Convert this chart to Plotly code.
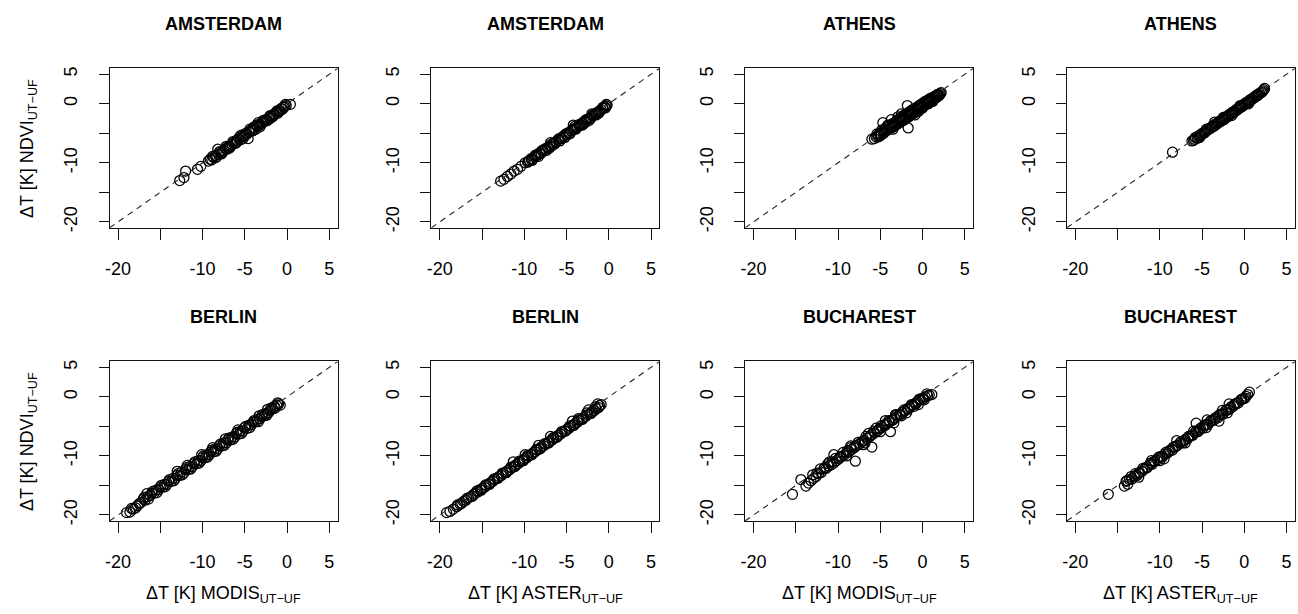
import plotly.graph_objects as go

# Shared axis setup for every panel (degrees K difference, urban tree vs urban fabric)
AXIS_RANGE = [-21, 6]
TICK_VALUES = [-20, -15, -10, -5, 0, 5]
X_TICK_TEXT = ["-20", "", "-10", "-5", "0", "5"]
Y_TICK_TEXT = ["-20", "", "-10", "", "0", "5"]

PANEL_CITIES = ["AMSTERDAM", "AMSTERDAM", "ATHENS", "ATHENS",
                "BERLIN", "BERLIN", "BUCHAREST", "BUCHAREST"]
PANEL_SENSORS = ["MODIS", "ASTER", "MODIS", "ASTER",
                 "MODIS", "ASTER", "MODIS", "ASTER"]

# (sensor dT, NDVI-based dT) pairs per city/sensor
AMSTERDAM_MODIS = [
    (-12.7, -13.0), (-12.2, -12.5), (-12.0, -11.4), (-10.6, -11.1), (-10.2, -10.6),
    (-9.3, -9.7), (-9.1, -9.4), (-8.9, -9.5), (-8.7, -9.1), (-8.5, -8.8), (-8.2, -7.7),
    (-8.1, -8.6), (-7.9, -8.2), (-7.7, -8.4), (-7.5, -7.9), (-7.3, -7.6), (-7.1, -7.7),
    (-6.9, -7.2), (-6.7, -7.3), (-6.5, -6.9), (-6.3, -6.6), (-6.1, -6.7), (-5.9, -6.2),
    (-5.7, -6.0), (-5.5, -6.1), (-5.3, -5.6), (-5.1, -5.5), (-4.9, -5.0), (-4.6, -5.9),
    (-4.5, -4.8), (-4.3, -4.5), (-4.1, -4.6), (-3.9, -4.1), (-3.7, -4.3), (-3.5, -3.8),
    (-3.3, -3.5), (-3.1, -3.6), (-2.9, -3.1), (-2.7, -3.0), (-2.5, -2.7), (-2.3, -2.8),
    (-2.1, -2.3), (-1.9, -2.1), (-1.7, -2.2), (-1.5, -1.7), (-1.3, -1.5), (-1.1, -1.6),
    (-0.9, -1.1), (-0.7, -0.8), (-0.5, -0.9), (-0.3, -0.4), (-0.1, -0.3), (0.4, -0.1),
    (-6.0, -6.2), (-4.0, -4.0), (-2.0, -2.5), (-5.0, -5.3), (-3.0, -3.3), (-1.0, -1.3),
    (-7.0, -7.4), (-8.8, -8.9), (-8.4, -9.1), (-8.0, -8.1), (-7.6, -8.1), (-7.2, -7.2),
    (-6.8, -7.5), (-6.4, -6.4), (-6.0, -6.6), (-5.6, -5.6), (-5.2, -5.9), (-4.8, -5.2),
    (-4.4, -4.3), (-4.0, -4.5), (-3.6, -3.6), (-3.2, -3.9), (-2.8, -2.8), (-2.4, -2.9),
    (-2.0, -2.0), (-1.6, -2.0), (-1.2, -1.2), (-0.8, -1.2), (-0.4, -0.6), (-0.2, -0.1),
    (-3.4, -3.2), (-5.4, -5.3), (-7.8, -8.5),
]
AMSTERDAM_ASTER = [
    (-12.8, -13.1), (-12.4, -12.8), (-12.0, -12.3), (-11.6, -11.9), (-11.2, -11.4),
    (-10.8, -11.1), (-10.4, -10.6), (-9.9, -10.0), (-9.6, -9.9), (-9.4, -9.6), (-9.2, -9.3),
    (-9.0, -9.4), (-8.8, -9.0), (-8.6, -8.8), (-8.4, -8.7), (-8.2, -8.3), (-8.0, -8.4),
    (-7.8, -8.0), (-7.6, -7.7), (-7.4, -7.9), (-7.2, -7.4), (-7.0, -7.1), (-6.8, -7.2),
    (-6.6, -6.7), (-6.4, -6.8), (-6.2, -6.4), (-6.0, -6.1), (-5.8, -6.3), (-5.6, -5.8),
    (-5.4, -5.5), (-5.2, -5.7), (-5.0, -5.2), (-4.8, -4.9), (-4.6, -5.1), (-4.4, -4.6),
    (-4.2, -4.4), (-4.0, -3.8), (-3.9, -4.3), (-3.7, -3.9), (-3.5, -3.7), (-3.3, -3.6),
    (-3.1, -3.2), (-2.9, -3.0), (-2.7, -3.1), (-2.5, -2.6), (-2.3, -2.5), (-2.1, -2.4),
    (-1.9, -2.0), (-1.7, -1.8), (-1.5, -1.9), (-1.3, -1.4), (-1.1, -1.2), (-0.9, -1.0),
    (-0.7, -0.8), (-0.5, -0.5), (-0.3, -0.4), (-0.2, -0.2), (-6.9, -6.6), (-3.0, -3.4),
    (-1.2, -1.6), (-9.5, -9.7), (-9.1, -9.6), (-8.7, -8.7), (-8.3, -8.9), (-7.9, -7.9),
    (-7.5, -7.6), (-7.1, -7.6), (-6.7, -6.8), (-6.3, -6.5), (-5.9, -5.9), (-5.5, -5.9),
    (-5.1, -5.1), (-4.7, -5.1), (-4.3, -4.3), (-3.9, -4.1), (-3.5, -3.5), (-3.1, -3.6),
    (-2.7, -2.7), (-2.3, -2.8), (-1.9, -1.9), (-1.5, -1.6), (-1.1, -1.4), (-0.7, -0.6),
    (-0.4, -0.7), (-0.3, -0.1), (-4.2, -3.6), (-2.0, -1.7),
]
ATHENS_MODIS = [
    (-6.0, -6.0), (-5.7, -5.9), (-5.5, -5.6), (-5.3, -5.4), (-5.1, -5.0), (-4.9, -5.2),
    (-4.7, -3.2), (-4.7, -4.6), (-4.5, -4.8), (-4.4, -4.3), (-4.2, -4.5), (-4.0, -3.9),
    (-3.8, -4.2), (-3.7, -2.7), (-3.6, -3.6), (-3.4, -3.9), (-3.3, -3.2), (-3.1, -3.5),
    (-3.0, -2.8), (-2.8, -3.2), (-2.7, -2.5), (-2.5, -2.9), (-2.4, -2.2), (-2.2, -2.6),
    (-2.1, -1.9), (-1.9, -2.4), (-1.8, -0.3), (-1.7, -4.1), (-1.8, -1.6), (-1.6, -2.1),
    (-1.5, -1.3), (-1.3, -1.8), (-1.2, -1.0), (-1.0, -1.5), (-0.9, -0.8), (-0.7, -1.2),
    (-0.6, -0.5), (-0.4, -0.9), (-0.3, -0.2), (-0.1, -0.6), (0.0, 0.1), (0.2, -0.3),
    (0.3, 0.4), (0.5, 0.0), (0.6, 0.6), (0.8, 0.3), (0.9, 0.9), (1.1, 0.6), (1.2, 1.1),
    (1.4, 0.9), (1.5, 1.3), (1.7, 1.2), (1.8, 1.6), (2.0, 1.5), (2.2, 1.9), (-2.9, -2.2),
    (-4.1, -3.6), (-5.2, -5.6), (-0.5, -1.3), (0.7, 0.0), (-5.4, -5.1), (-5.0, -5.4),
    (-4.8, -4.4), (-4.6, -5.0), (-4.3, -4.0), (-4.1, -4.4), (-3.9, -3.6), (-3.7, -4.0),
    (-3.5, -3.3), (-3.3, -3.7), (-3.1, -2.9), (-2.9, -3.4), (-2.7, -2.7), (-2.6, -3.0),
    (-2.4, -2.5), (-2.3, -2.0), (-2.2, -2.8), (-2.0, -2.2), (-1.9, -1.7), (-1.7, -2.3),
    (-1.6, -1.5), (-1.4, -1.9), (-1.3, -1.2), (-1.1, -1.7), (-1.0, -0.9), (-0.8, -1.4),
    (-0.7, -0.7), (-0.5, -1.0), (-0.4, -0.4), (-0.2, -0.8), (-0.1, -0.1), (0.1, -0.4),
    (0.2, 0.2), (0.4, -0.1), (0.5, 0.5), (0.7, 0.2), (0.8, 0.7), (1.0, 0.4), (1.1, 0.9),
    (1.3, 0.8), (1.4, 1.2), (1.6, 1.0), (1.7, 1.5), (1.9, 1.3), (2.1, 1.7), (-0.9, -1.9),
    (-2.5, -1.7), (-3.5, -4.3), (0.0, -0.7), (1.2, 0.4),
]
ATHENS_ASTER = [
    (-8.5, -8.2), (-6.2, -6.3), (-5.9, -6.0), (-5.6, -5.8), (-5.4, -5.4), (-5.2, -5.4),
    (-5.0, -5.0), (-4.8, -5.0), (-4.6, -4.7), (-4.4, -4.5), (-4.2, -4.2), (-4.0, -4.2),
    (-3.8, -3.8), (-3.6, -3.8), (-3.4, -3.4), (-3.2, -3.4), (-3.0, -3.0), (-2.8, -3.0),
    (-2.6, -2.6), (-2.4, -2.7), (-2.2, -2.2), (-2.0, -2.2), (-1.8, -1.8), (-1.6, -1.8),
    (-1.4, -1.4), (-1.2, -1.4), (-1.0, -1.0), (-0.8, -1.0), (-0.6, -0.6), (-0.4, -0.6),
    (-0.2, -0.2), (0.0, -0.2), (0.2, 0.2), (0.4, 0.2), (0.6, 0.6), (0.8, 0.6), (1.0, 1.0),
    (1.2, 1.0), (1.4, 1.4), (1.6, 1.4), (1.8, 1.8), (2.0, 1.9), (2.2, 2.2), (2.4, 2.6),
    (-1.5, -2.0), (0.5, 0.0), (-3.5, -3.1), (-5.3, -5.7), (-5.8, -5.7), (-5.5, -5.8),
    (-5.1, -5.2), (-4.7, -4.9), (-4.3, -4.4), (-3.9, -4.0), (-3.5, -3.7), (-3.1, -3.2),
    (-2.7, -2.9), (-2.3, -2.4), (-1.9, -2.1), (-1.5, -1.6), (-1.1, -1.3), (-0.7, -0.8),
    (-0.3, -0.5), (0.1, 0.0), (0.5, 0.3), (0.9, 0.8), (1.3, 1.2), (1.7, 1.6), (2.1, 2.0),
    (-4.5, -4.3), (-2.5, -2.3), (-0.5, -0.3), (1.5, 1.5), (2.3, 2.4), (-6.0, -6.2),
]
BERLIN_MODIS = [
    (-19.0, -19.6), (-18.6, -19.5), (-18.2, -19.0), (-17.7, -18.4), (-17.3, -17.9),
    (-17.0, -17.3), (-16.8, -17.5), (-16.5, -16.9), (-16.2, -16.7), (-16.0, -16.3),
    (-15.7, -16.3), (-15.5, -15.8), (-15.2, -15.7), (-15.0, -15.3), (-14.7, -15.3),
    (-14.5, -14.8), (-14.2, -14.8), (-14.0, -14.3), (-13.7, -14.3), (-13.5, -13.8),
    (-13.2, -13.8), (-13.0, -13.3), (-12.7, -13.3), (-12.5, -12.7), (-12.2, -12.9),
    (-12.0, -12.3), (-11.8, -11.6), (-11.7, -12.3), (-11.5, -11.8), (-11.2, -11.8),
    (-11.0, -11.3), (-10.7, -11.3), (-10.5, -10.8), (-10.2, -10.8), (-10.0, -10.3),
    (-9.7, -10.3), (-9.5, -9.8), (-9.2, -9.8), (-9.0, -9.3), (-8.8, -8.6), (-8.7, -9.3),
    (-8.5, -8.8), (-8.2, -8.8), (-8.0, -8.3), (-7.7, -8.3), (-7.5, -7.8), (-7.2, -7.8),
    (-7.0, -7.3), (-6.7, -7.3), (-6.5, -6.8), (-6.2, -6.8), (-6.0, -6.2), (-5.7, -6.3),
    (-5.5, -5.8), (-5.2, -5.8), (-5.0, -5.2), (-4.7, -5.3), (-4.5, -4.8), (-4.2, -4.7),
    (-4.0, -4.3), (-3.7, -4.2), (-3.5, -3.8), (-3.2, -3.7), (-3.0, -3.3), (-2.7, -3.2),
    (-2.5, -2.8), (-2.2, -2.7), (-2.0, -2.3), (-1.7, -2.0), (-1.5, -1.6), (-1.2, -1.5),
    (-1.0, -1.2), (-0.8, -1.4), (-2.3, -2.1), (-5.8, -5.6), (-10.1, -9.8),
    (-18.4, -18.9), (-17.9, -18.8), (-17.5, -18.1), (-16.9, -17.0), (-16.4, -17.3),
    (-15.9, -16.0), (-15.4, -16.2), (-14.9, -15.0), (-14.4, -15.2), (-13.9, -14.0),
    (-13.4, -14.2), (-12.9, -13.0), (-12.4, -13.2), (-11.9, -12.0), (-11.4, -12.2),
    (-10.9, -11.0), (-10.4, -11.2), (-9.9, -10.0), (-9.4, -10.2), (-8.9, -9.0),
    (-8.4, -9.2), (-7.9, -8.0), (-7.4, -8.2), (-6.9, -7.0), (-6.4, -7.2), (-5.9, -6.0),
    (-5.4, -6.2), (-4.9, -5.0), (-4.4, -5.2), (-3.9, -4.0), (-3.4, -4.2), (-2.9, -3.0),
    (-2.4, -3.1), (-1.9, -1.9), (-1.4, -1.9), (-1.1, -1.0), (-13.0, -12.6), (-7.3, -7.1),
    (-3.3, -3.2), (-16.6, -16.4),
]
BERLIN_ASTER = [
    (-19.2, -19.6), (-18.8, -19.4), (-18.4, -19.0), (-18.0, -18.6), (-17.6, -18.2),
    (-17.2, -17.7), (-16.9, -17.5), (-16.6, -17.1), (-16.3, -16.9), (-16.0, -16.5),
    (-15.8, -16.3), (-15.5, -16.1), (-15.2, -15.7), (-15.0, -15.5), (-14.7, -15.3),
    (-14.5, -15.0), (-14.2, -14.8), (-14.0, -14.5), (-13.7, -14.3), (-13.5, -14.0),
    (-13.2, -13.8), (-13.0, -13.5), (-12.7, -13.3), (-12.5, -13.0), (-12.2, -12.8),
    (-12.0, -12.5), (-11.7, -12.3), (-11.5, -12.0), (-11.2, -11.8), (-11.0, -11.5),
    (-10.7, -11.3), (-10.5, -11.0), (-10.2, -10.8), (-10.0, -10.5), (-9.7, -10.3),
    (-9.5, -10.0), (-9.2, -9.8), (-9.0, -9.5), (-8.7, -9.3), (-8.5, -9.0), (-8.2, -8.8),
    (-8.0, -8.5), (-7.7, -8.3), (-7.5, -8.0), (-7.2, -7.8), (-7.0, -7.5), (-6.7, -7.3),
    (-6.5, -7.0), (-6.2, -6.8), (-6.0, -6.5), (-5.7, -6.3), (-5.5, -6.0), (-5.2, -5.8),
    (-5.0, -5.5), (-4.7, -5.3), (-4.5, -5.0), (-4.2, -4.8), (-4.0, -4.5), (-3.7, -4.3),
    (-3.5, -4.0), (-3.2, -3.8), (-3.0, -3.5), (-2.7, -3.3), (-2.5, -3.0), (-2.2, -2.8),
    (-2.0, -2.5), (-1.7, -2.3), (-1.5, -2.0), (-1.2, -1.8), (-0.9, -1.3), (-6.9, -6.7),
    (-11.3, -11.0), (-3.6, -3.9), (-17.9, -18.3), (-17.4, -18.0), (-16.8, -17.2),
    (-16.1, -16.8), (-15.6, -15.9), (-15.1, -15.8), (-14.6, -14.9), (-14.1, -14.8),
    (-13.6, -13.9), (-13.1, -13.8), (-12.6, -12.9), (-12.1, -12.8), (-11.6, -11.9),
    (-11.1, -11.8), (-10.6, -10.9), (-10.1, -10.8), (-9.6, -9.9), (-9.1, -9.8),
    (-8.6, -8.9), (-8.1, -8.8), (-7.6, -7.9), (-7.1, -7.8), (-6.6, -6.9), (-6.1, -6.8),
    (-5.6, -5.9), (-5.1, -5.8), (-4.6, -4.9), (-4.1, -4.8), (-3.6, -3.7), (-3.1, -3.8),
    (-2.6, -2.7), (-2.1, -2.8), (-1.6, -1.7), (-1.1, -1.5), (-1.3, -1.2), (-2.4, -2.2),
    (-4.3, -4.1), (-8.3, -8.2), (-9.9, -9.8),
]
BUCHAREST_MODIS = [
    (-15.4, -16.5), (-14.4, -14.0), (-13.8, -15.1), (-13.5, -14.6), (-13.2, -14.2),
    (-12.9, -13.8), (-12.6, -13.5), (-12.3, -13.0), (-12.0, -12.8), (-11.7, -12.2),
    (-11.4, -12.1), (-11.1, -11.7), (-10.8, -11.5), (-10.5, -9.8), (-10.5, -11.2),
    (-10.2, -10.8), (-9.9, -10.5), (-9.6, -10.1), (-9.3, -9.9), (-9.0, -9.5), (-8.7, -9.3),
    (-8.4, -8.9), (-8.1, -8.6), (-7.95, -10.9), (-7.8, -8.3), (-7.5, -8.0), (-7.2, -7.6),
    (-6.9, -7.4), (-6.6, -7.0), (-6.3, -6.8), (-6.0, -8.5), (-6.0, -6.4), (-5.7, -6.1),
    (-5.4, -5.8), (-5.1, -5.4), (-4.8, -5.2), (-4.5, -4.7), (-4.2, -4.5), (-3.9, -4.2),
    (-3.8, -5.9), (-3.6, -3.9), (-3.3, -3.6), (-3.0, -3.3), (-2.7, -3.0), (-2.4, -2.6),
    (-2.1, -2.4), (-1.8, -2.0), (-1.5, -1.8), (-1.2, -1.4), (-0.9, -1.1), (-0.6, -0.8),
    (-0.3, -0.5), (0.0, -0.2), (0.3, 0.0), (0.6, 0.2), (1.1, 0.4), (-4.4, -4.0),
    (-2.5, -3.2), (-1.0, -1.6), (-8.5, -8.3), (-5.5, -5.3), (0.2, -0.5), (-3.2, -3.0),
    (-6.8, -7.8), (-13.0, -13.2), (-12.5, -12.9), (-12.1, -12.2), (-11.6, -12.0),
    (-11.2, -11.3), (-10.7, -11.0), (-10.3, -10.4), (-9.8, -10.2), (-9.4, -9.4),
    (-8.9, -9.1), (-8.5, -8.6), (-8.0, -8.3), (-7.6, -7.7), (-7.1, -7.5), (-6.7, -6.7),
    (-6.2, -6.6), (-5.8, -5.8), (-5.3, -5.7), (-4.9, -4.9), (-4.4, -4.8), (-4.0, -4.0),
    (-3.5, -3.9), (-3.1, -3.1), (-2.6, -3.0), (-2.2, -2.2), (-1.7, -2.1), (-1.3, -1.3),
    (-0.8, -1.2), (-0.4, -0.4), (0.1, -0.3), (0.5, 0.5), (0.8, 0.3), (-9.0, -10.0),
    (-7.0, -8.1), (-5.0, -5.9), (-3.4, -4.4), (-1.9, -2.7), (-0.5, -1.3), (-11.0, -11.0),
    (-6.4, -6.2),
]
BUCHAREST_ASTER = [
    (-16.1, -16.5), (-14.2, -15.1), (-14.0, -14.3), (-13.8, -14.8), (-13.6, -14.0),
    (-13.3, -13.9), (-13.0, -13.4), (-12.7, -13.3), (-12.4, -12.8), (-12.1, -12.6),
    (-11.8, -12.2), (-11.5, -12.0), (-11.2, -11.5), (-10.9, -11.4), (-10.6, -10.9),
    (-10.3, -10.7), (-10.0, -10.1), (-9.7, -10.2), (-9.4, -9.7), (-9.1, -9.5), (-8.8, -9.0),
    (-8.5, -9.0), (-8.2, -8.5), (-7.9, -8.2), (-7.6, -7.8), (-7.3, -7.8), (-7.0, -7.2),
    (-6.7, -7.1), (-6.4, -6.6), (-6.1, -6.5), (-5.8, -6.0), (-5.5, -5.9), (-5.2, -5.3),
    (-4.9, -5.3), (-4.6, -4.7), (-4.3, -4.7), (-4.0, -4.1), (-3.7, -4.0), (-3.4, -3.5),
    (-3.1, -3.5), (-2.8, -2.9), (-2.5, -2.9), (-2.2, -2.3), (-1.9, -2.2), (-1.6, -1.7),
    (-1.3, -1.6), (-1.0, -1.1), (-0.7, -1.0), (-0.4, -0.5), (-0.1, -0.3), (0.2, 0.1),
    (0.6, 0.8), (-5.7, -4.45), (-3.0, -4.1), (-1.8, -1.2), (-8.0, -7.4), (-9.5, -10.5),
    (-2.6, -2.3), (-4.4, -3.9), (-13.9, -14.2), (-13.4, -13.5), (-12.9, -13.0),
    (-12.5, -12.9), (-12.0, -12.1), (-11.6, -11.9), (-11.1, -11.2), (-10.7, -11.0),
    (-10.2, -10.3), (-9.8, -10.1), (-9.3, -9.4), (-8.9, -9.2), (-8.4, -8.5), (-8.0, -8.3),
    (-7.5, -7.6), (-7.1, -7.4), (-6.6, -6.7), (-6.2, -6.5), (-5.7, -5.8), (-5.3, -5.6),
    (-4.8, -4.9), (-4.4, -4.7), (-3.9, -4.0), (-3.5, -3.8), (-3.0, -3.1), (-2.6, -2.9),
    (-2.1, -2.2), (-1.7, -2.0), (-1.2, -1.3), (-0.8, -1.1), (-0.3, -0.4), (0.1, -0.2),
    (0.4, 0.4), (-12.5, -13.6), (-10.0, -10.8), (-7.0, -7.8), (-4.5, -5.2), (-2.0, -2.7),
    (-11.0, -10.8), (-6.0, -5.8),
]

PANEL_DATA = [AMSTERDAM_MODIS, AMSTERDAM_ASTER, ATHENS_MODIS, ATHENS_ASTER,
              BERLIN_MODIS, BERLIN_ASTER, BUCHAREST_MODIS, BUCHAREST_ASTER]

W, H = 1298, 614
COL_LEFT = [105, 428, 743, 1066]
PANEL_W = 229
ROW_TOP = [67, 363]
PANEL_H = 161

FONT = "Liberation Sans, Arial, sans-serif"
MINUS = "\u2212"

fig = go.Figure()
annotations = []
shapes = []

for i, pairs in enumerate(PANEL_DATA):
    row, col = divmod(i, 4)
    n = i + 1
    xa = "xaxis" if n == 1 else f"xaxis{n}"
    ya = "yaxis" if n == 1 else f"yaxis{n}"
    xref = "x" if n == 1 else f"x{n}"
    yref = "y" if n == 1 else f"y{n}"

    x0 = COL_LEFT[col] / W
    x1 = (COL_LEFT[col] + PANEL_W) / W
    y1 = 1 - ROW_TOP[row] / H
    y0 = 1 - (ROW_TOP[row] + PANEL_H) / H

    common = dict(
        range=AXIS_RANGE, tickvals=TICK_VALUES, ticks="outside",
        showline=True, mirror=True, linecolor="#111", linewidth=1,
        showgrid=False, zeroline=False, tickcolor="#111", tickwidth=1,
        tickfont=dict(family=FONT, size=18, color="black"),
        fixedrange=True,
    )
    fig.update_layout({
        xa: dict(common, domain=[x0, x1], anchor=yref, ticktext=X_TICK_TEXT,
                 ticklen=11, ticklabelstandoff=14),
        ya: dict(common, domain=[y0, y1], anchor=xref, ticktext=Y_TICK_TEXT,
                 ticklen=10, tickangle=-90, ticklabelstandoff=14),
    })

    fig.add_trace(go.Scatter(
        x=[p[0] for p in pairs], y=[p[1] for p in pairs],
        mode="markers", xaxis=xref, yaxis=yref, showlegend=False,
        marker=dict(symbol="circle-open", size=10, color="black",
                    line=dict(width=1.25, color="black")),
        hoverinfo="x+y",
    ))

    # 1:1 reference line across the full plotting window
    shapes.append(dict(
        type="line", xref=xref, yref=yref,
        x0=AXIS_RANGE[0], y0=AXIS_RANGE[0], x1=AXIS_RANGE[1], y1=AXIS_RANGE[1],
        line=dict(color="#222", width=1.1, dash="6px,5px"),
    ))

    # panel title
    annotations.append(dict(
        text=f"<b>{PANEL_CITIES[i]}</b>", xref="paper", yref="paper",
        x=(x0 + x1) / 2, y=1 - (ROW_TOP[row] - 45) / H,
        xanchor="center", yanchor="middle", showarrow=False,
        font=dict(family=FONT, size=18, color="black"),
    ))

    if row == 1:
        annotations.append(dict(
            text=f"\u0394T [K] {PANEL_SENSORS[i]}<sub>UT{MINUS}UF</sub>",
            xref="paper", yref="paper", x=(x0 + x1) / 2, y=1 - 598 / H,
            xanchor="center", yanchor="middle", showarrow=False,
            font=dict(family=FONT, size=18, color="black"),
        ))
    if col == 0:
        annotations.append(dict(
            text=f"\u0394T [K] NDVI<sub>UT{MINUS}UF</sub>",
            xref="paper", yref="paper", x=23 / W, y=(y0 + y1) / 2,
            xanchor="center", yanchor="middle", showarrow=False, textangle=-90,
            font=dict(family=FONT, size=18, color="black"),
        ))

fig.update_layout(
    width=W, height=H, margin=dict(l=0, r=0, t=0, b=0),
    paper_bgcolor="white", plot_bgcolor="white",
    annotations=annotations, shapes=shapes,
)

fig.write_html("out.html", config={"displayModeBar": False})
